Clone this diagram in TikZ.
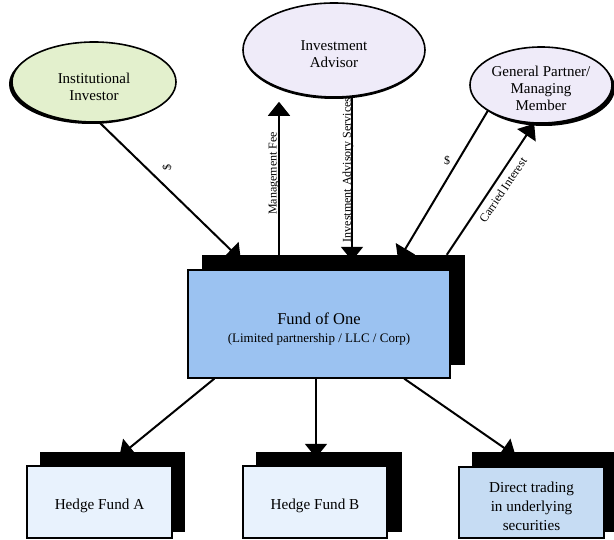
\documentclass[tikz,border=0pt]{standalone}
\usepackage{fontspec}
\setmainfont{Liberation Serif}
\usetikzlibrary{arrows.meta,shapes.geometric,calc}
\pgfdeclarelayer{bg}
\pgfsetlayers{bg,main}

\definecolor{fundblue}{RGB}{155,194,241}
\definecolor{paleblue}{RGB}{232,242,253}
\definecolor{midblue}{RGB}{198,220,243}
\definecolor{palegreen}{RGB}{227,240,205}
\definecolor{lavender}{RGB}{239,235,249}

\begin{document}
\begin{tikzpicture}[x=1pt,y=-1pt,
  oval/.style={ellipse, draw=black, line width=1.6pt, inner sep=0pt},
  ovalshadow/.style={ellipse, fill=black, inner sep=0pt},
  ovaltext/.style={align=center, inner sep=0pt, font=\fontsize{15}{17}\selectfont},
  box/.style={rectangle, draw=black, line width=1.4pt, inner sep=0pt},
  boxshadow/.style={rectangle, fill=black, inner sep=0pt},
  boxtext/.style={align=center, inner sep=0pt, font=\fontsize{15.2}{19}\selectfont},
  link/.style={line width=2pt, -{Triangle[length=14pt,width=22pt]}},
  lbl/.style={font=\fontsize{12}{14}\selectfont, inner sep=0pt}
]
\useasboundingbox (0,0) rectangle (614,540);

% --- parties (ellipses with offset shadows)
\node[ovalshadow, minimum width=164pt, minimum height=80pt] (invS) at (91,84) {};
\node[oval, fill=palegreen, minimum width=164pt, minimum height=80pt] (inv) at (94,82) {};
\node[ovaltext] (invT) at ($(inv)+(0,5)$) {Institutional\\Investor};

\node[ovalshadow, minimum width=182pt, minimum height=94pt] (advS) at (334,52) {};
\node[oval, fill=lavender, minimum width=182pt, minimum height=94pt] (adv) at (334,50) {};
\node[ovaltext] (advT) at ($(adv)+(0,4)$) {Investment\\Advisor};

\node[ovalshadow, minimum width=142pt, minimum height=76pt] (gpS) at (544,88) {};
\node[oval, fill=lavender, minimum width=142pt, minimum height=76pt] (gp) at (541,85) {};
\node[ovaltext] (gpT) at ($(gp)+(0,3)$) {General Partner/\\Managing\\Member};

% --- fund and investments (boxes with offset shadows)
\node[boxshadow, minimum width=263pt, minimum height=110pt] (fundS) at (333.5,310) {};
\node[box, fill=fundblue, minimum width=262pt, minimum height=108pt] (fund) at (319,324) {};
\node[boxtext] (fundT) at ($(fund)+(0,5)$)
  {{\fontsize{16.5}{17}\selectfont Fund of One}\\[-1pt]
   {\fontsize{13}{15}\selectfont (Limited partnership / LLC / Corp)}};

\node[boxshadow, minimum width=145pt, minimum height=80pt] (hfaS) at (112.5,492) {};
\node[box, fill=paleblue, minimum width=145pt, minimum height=72pt] (hfa) at (99.5,502) {};
\node[boxtext] (hfaT) at ($(hfa)+(0,4)$) {Hedge Fund A};

\node[boxshadow, minimum width=146pt, minimum height=80pt] (hfbS) at (329,492) {};
\node[box, fill=paleblue, minimum width=144pt, minimum height=72pt] (hfb) at (315,502) {};
\node[boxtext] (hfbT) at ($(hfb)+(0,4)$) {Hedge Fund B};

\node[boxshadow, minimum width=145pt, minimum height=80pt] (dirS) at (544.5,492) {};
\node[box, fill=midblue, minimum width=145pt, minimum height=71pt] (dir) at (531.5,502.5) {};
\node[boxtext] (dirT) at ($(dir)+(0,4)$) {Direct trading\\in underlying\\securities};

% --- vertical connector positions
\coordinate (mfx) at (279,0);
\coordinate (iasx) at (352,0);
\coordinate (hfbx) at (316,0);

% --- flows
\begin{pgfonlayer}{bg}
  \draw[link, shorten >=-7pt] (inv.-82) -- ($(fundS.north west)+(34,0)$);
  \draw[link, shorten >=4pt] (fundS.north -| mfx) -- (adv.south -| mfx);
  \draw[link, shorten >=-6pt] (adv.south -| iasx) -- (fundS.north -| iasx);
  \draw[link, shorten >=-7pt] (gp.-154) -- ($(fundS.north west)+(200,0)$);
  \draw[link] ($(fundS.north west)+(245,0)$) -- (gp.-100);
  \draw[link, shorten >=-7pt] ($(fund.south west)+(27,0)$) -- ($(hfaS.north west)+(85,0)$);
  \draw[link, shorten >=-6pt] (fund.south -| hfbx) -- (hfbS.north -| hfbx);
  \draw[link, shorten >=-7pt] ($(fund.south west)+(217,0)$) -- ($(dirS.north west)+(38,0)$);
\end{pgfonlayer}

% --- flow labels
\node[lbl, rotate=90] (usd1) at (167,168) {\$};
\node[lbl, rotate=90] (mfee) at (274,173.5) {Management Fee};
\node[lbl, rotate=90] (ias) at (348,170) {Investment Advisory Services};
\node[lbl] (usd2) at (447,161) {\$};
\node[lbl, rotate=56] (carry) at (503,190) {Carried Interest};
\end{tikzpicture}
\end{document}
